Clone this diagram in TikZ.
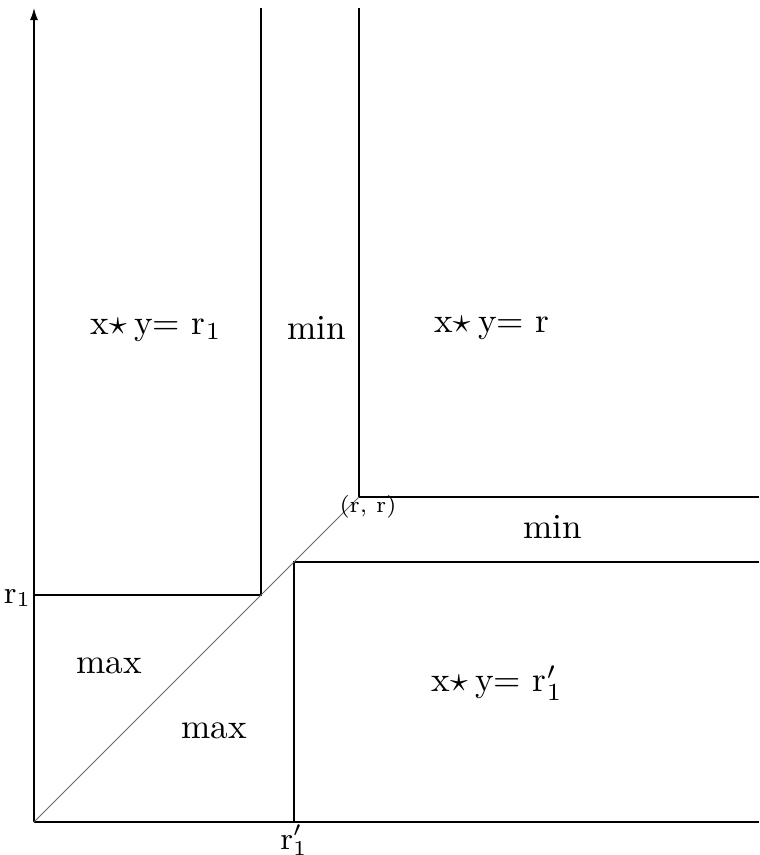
\documentclass[tikz,border=0pt]{standalone}
\usepackage{amsmath,amssymb}
\usepackage{tikz}
\usetikzlibrary{arrows.meta,positioning,calc}
\tikzset{
  region/.style={line width=0.4pt, color=black},
  diag/.style={line width=0.25pt, color=black!60},
  lbl/.style={font=\normalsize, inner sep=0pt},
  tick/.style={font=\small, inner sep=0pt}
}
\newcommand{\xsy}{x$\star$\hspace{0.22em}y= }

\begin{document}
\begin{tikzpicture}[x=0.01cm,y=-0.01cm]
  \useasboundingbox (0,0) rectangle (759,855);
  % corner points
  \coordinate (O)  at (34,822);
  \coordinate (rr) at (359,497);
  \coordinate (A)  at (261,595);
  \coordinate (B)  at (294,562);
  \coordinate (ytop) at (34,8);
  \coordinate (xend) at (759,822);
  % axes
  \draw[region, -{Latex[length=1.2mm,width=0.8mm]}] (O) -- (ytop);
  \draw[region] (O) -- (xend);
  % boundaries
  \draw[region] (O |- A) -- (A) -- (A |- ytop);
  \draw[region] (rr |- ytop) -- (rr) -- (rr -| xend);
  \draw[region] (B -| xend) -- (B) -- (B |- O);
  \draw[diag] (O) -- (rr);
  % labels
  \node[lbl] (t1)   at (156,330) {\xsy r$_1$};
  \node[lbl] (mn1)  at (317,328) {min};
  \node[lbl] (t2)   at (492,328) {\xsy r};
  \node[lbl] (mn2)  at (553,527) {min};
  \node[lbl] (mx1)  at (109,666) {max};
  \node[lbl] (mx2)  at (214,731) {max};
  \node[lbl] (t3)   at (497,683) {\xsy r$^\prime_1$};
  \node[font=\fontsize{6.5}{7}\selectfont, inner sep=0pt] (lrr) at (368,507) {(r, r)};
  \node[tick, anchor=east] (lr1) at ($(O |- A)+(-2,3)$) {r$_1$};
  \node[tick, anchor=north] (lr1p) at ($(B |- O)+(0,2)$) {r$^\prime_1$};
\end{tikzpicture}
\end{document}
